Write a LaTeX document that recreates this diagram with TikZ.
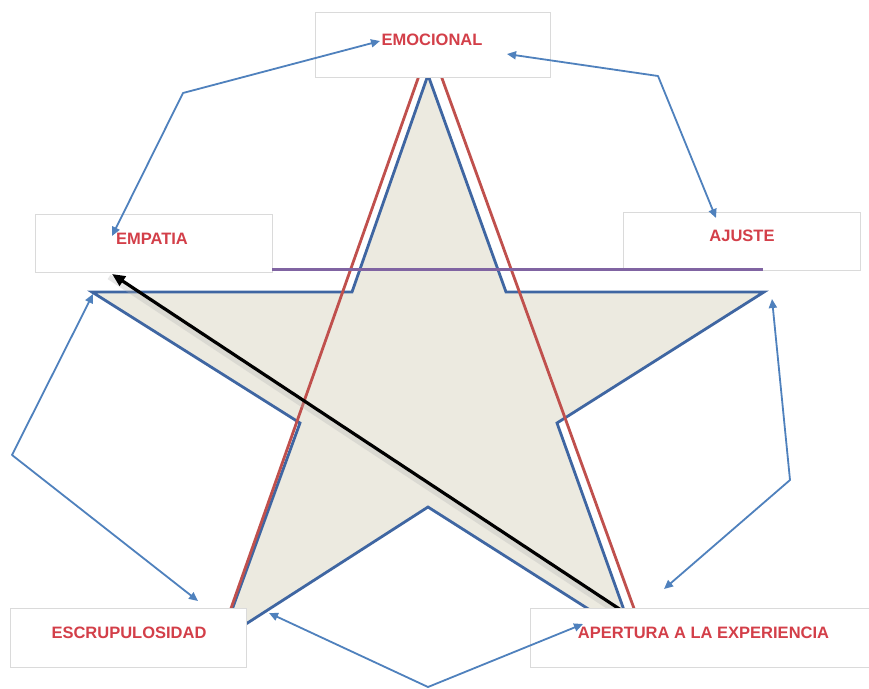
\documentclass[tikz,border=0pt]{standalone}
\usepackage{fontspec}
\setmainfont{Liberation Sans}
\usetikzlibrary{arrows.meta,calc}
\definecolor{starfill}{HTML}{ECEAE0}
\definecolor{starblue}{HTML}{3F66A2}
\definecolor{redline}{HTML}{C0504D}
\definecolor{purp}{HTML}{8064A2}
\definecolor{arrblue}{HTML}{4F81BD}
\definecolor{txtred}{HTML}{D33F49}
\definecolor{boxgray}{HTML}{DADADA}
\begin{document}
\begin{tikzpicture}[x=1pt,y=-1pt,
  box/.style={draw=boxgray, line width=0.8pt, fill=white, inner sep=0pt},
  lbl/.style={text=txtred, font=\fontsize{16.5}{18}\selectfont\bfseries, inner sep=0pt},
  link/.style={draw=arrblue, line width=1.8pt, line join=round,
    {Triangle[length=9pt,width=8pt]}-{Triangle[length=9pt,width=8pt]}},
  starline/.style={draw=starblue, line width=2.8pt, line join=miter, fill=starfill},
  redl/.style={draw=redline, line width=2.8pt},
  purpl/.style={draw=purp, line width=3pt},
  blackarrow/.style={draw=black, line width=3.2pt, -{Triangle[length=13pt,width=11pt]}}
]
\useasboundingbox (0,0) rectangle (869,688);
\fill[white] (0,0) rectangle (869,688);

% star
\coordinate (sTop) at (428,75);
\coordinate (sIUR) at (506,292);
\coordinate (sR) at (764,292);
\coordinate (sIR) at (557,423);
\coordinate (sBR) at (634,638);
\coordinate (sIB) at (428,507);
\coordinate (sBL) at (221,640);
\coordinate (sIL) at (300,423);
\coordinate (sL) at (92,292);
\coordinate (sIUL) at (352,292);
\draw[starline] (sTop) -- (sIUR) -- (sR) -- (sIR) -- (sBR) -- (sIB) -- (sBL) -- (sIL) -- (sL) -- (sIUL) -- cycle;

% red lines
\coordinate (rL1) at (421,70);
\coordinate (rL2) at (229,614);
\coordinate (rR1) at (439,70);
\coordinate (rR2) at (636,614);
\draw[redl] (rL1) -- (rL2);
\draw[redl] (rR1) -- (rR2);

% black arrow with soft shadow
\coordinate (bS) at (627,614);
\coordinate (bE) at (112,274);
\draw[draw=black!30, line width=5pt, opacity=0.3] ($(bS)+(-3,3)$) -- ($(bE)+(-3,3)$);
\draw[blackarrow] (bS) -- (bE);

% boxes
\node[box, minimum width=235pt, minimum height=65pt] (emoB) at (432.5,44.5) {};
\node[box, minimum width=237pt, minimum height=58pt] (empB) at (153.5,243) {};
\node[box, minimum width=237pt, minimum height=58pt] (ajuB) at (741.5,241) {};
\node[box, minimum width=236pt, minimum height=59pt] (escB) at (128,637.5) {};
\node[box, minimum width=345pt, minimum height=59pt] (apeB) at (702.5,637.5) {};

% purple line
\coordinate (pE) at (763,269);
\draw[purpl] (empB.east |- pE) -- (pE);

% labels
\node[lbl] (emo) at (432,40) {EMOCIONAL};
\node[lbl] (emp) at (152,238.5) {EMPATIA};
\node[lbl] (aju) at (742,235.5) {AJUSTE};
\node[lbl] (esc) at (129,632.5) {ESCRUPULOSIDAD};
\node[lbl] (ape) at (703.5,632.5) {APERTURA A LA EXPERIENCIA};

% blue arrows
\coordinate (c1) at (183,93);
\coordinate (c2) at (658,76);
\coordinate (c3) at (12,455);
\coordinate (c4) at (790,480);
\coordinate (c5) at (428,687);
\coordinate (t1a) at (112,236);
\coordinate (t1b) at (380,41);
\coordinate (t2a) at (507,54);
\coordinate (t2b) at (716,218);
\coordinate (t3a) at (93,294);
\coordinate (t3b) at (198,601);
\coordinate (t4a) at (772,299);
\coordinate (t4b) at (664,589);
\coordinate (t5a) at (269,613);
\coordinate (t5b) at (583,624);
\draw[link] (t1a) -- (c1) -- (t1b);
\draw[link] (t2a) -- (c2) -- (t2b);
\draw[link] (t3a) -- (c3) -- (t3b);
\draw[link] (t4a) -- (c4) -- (t4b);
\draw[link] (t5a) -- (c5) -- (t5b);
\end{tikzpicture}
\end{document}
